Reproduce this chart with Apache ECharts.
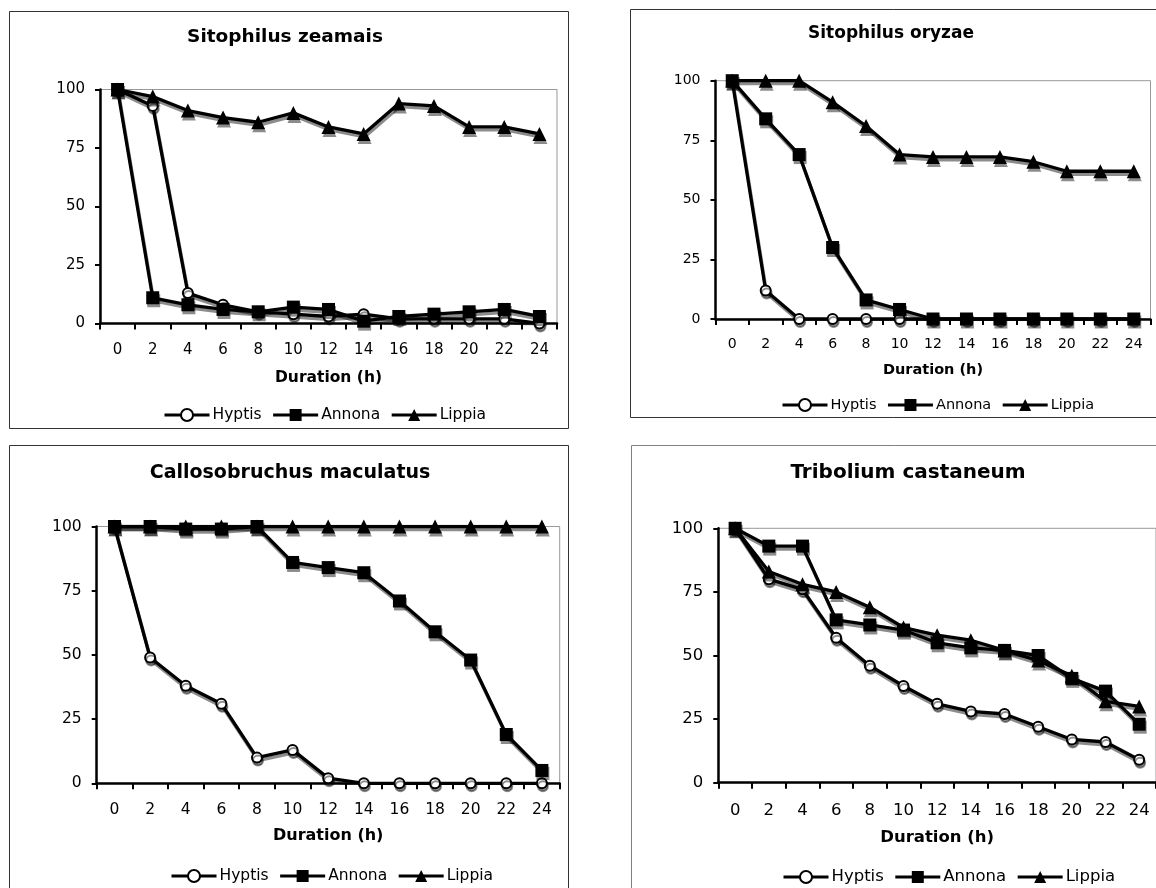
<!DOCTYPE html>
<html>
<head>
<meta charset="utf-8">
<script src="https://cdn.jsdelivr.net/npm/echarts@6/dist/echarts.min.js"></script>
<style>html,body{margin:0;padding:0;background:#fff;}#c{width:1156px;height:888px;}</style>
</head>
<body>
<div id="c"></div>
<script>
const categories = ['0','2','4','6','8','10','12','14','16','18','20','22','24'];
const yTicks = [0, 25, 50, 75, 100];
const seriesNames = ['Hyptis', 'Annona', 'Lippia'];
const panelTitles = ['Sitophilus zeamais', 'Sitophilus oryzae', 'Callosobruchus maculatus', 'Tribolium castaneum'];
const xAxisTitle = 'Duration (h)';

// Sitophilus zeamais
const zeamaisHyptis = [100, 93, 13, 8, 5, 4, 3, 4, 2, 2, 2, 2, 0];
const zeamaisAnnona = [100, 11, 8, 6, 5, 7, 6, 1, 3, 4, 5, 6, 3];
const zeamaisLippia = [100, 97, 91, 88, 86, 90, 84, 81, 94, 93, 84, 84, 81];
// Sitophilus oryzae
const oryzaeHyptis = [100, 12, 0, 0, 0, 0, 0, 0, 0, 0, 0, 0, 0];
const oryzaeAnnona = [100, 84, 69, 30, 8, 4, 0, 0, 0, 0, 0, 0, 0];
const oryzaeLippia = [100, 100, 100, 91, 81, 69, 68, 68, 68, 66, 62, 62, 62];
// Callosobruchus maculatus
const maculatusHyptis = [100, 49, 38, 31, 10, 13, 2, 0, 0, 0, 0, 0, 0];
const maculatusAnnona = [100, 100, 99, 99, 100, 86, 84, 82, 71, 59, 48, 19, 5];
const maculatusLippia = [100, 100, 100, 100, 100, 100, 100, 100, 100, 100, 100, 100, 100];
// Tribolium castaneum
const castaneumHyptis = [100, 80, 76, 57, 46, 38, 31, 28, 27, 22, 17, 16, 9];
const castaneumAnnona = [100, 93, 93, 64, 62, 60, 55, 53, 52, 50, 41, 36, 23];
const castaneumLippia = [100, 83, 78, 75, 69, 61, 58, 56, 52, 48, 42, 32, 30];

const panelData = [
  [zeamaisHyptis, zeamaisAnnona, zeamaisLippia],
  [oryzaeHyptis, oryzaeAnnona, oryzaeLippia],
  [maculatusHyptis, maculatusAnnona, maculatusLippia],
  [castaneumHyptis, castaneumAnnona, castaneumLippia]
];

const FONT = '"DejaVu Sans", Verdana, sans-serif';

// layout per panel
const layout = [
  {grid:{left:100, top:89.5, width:457, height:234}, box:{x:9.5,y:11.5,w:559,h:417}, boxColor:'#333',
   title:{x:285, y:37, size:18.5}, tick:15, labelMargin:19.5, name:15.5, nameGap:46, legend:{left:163, top:407}, leg:15.5},
  {grid:{left:715.5, top:80.7, width:435, height:238.3}, box:{x:630.5,y:9.5,w:560,h:408}, boxColor:'#333',
   title:{x:891, y:33.5, size:17}, tick:14, labelMargin:18, name:14.5, nameGap:43.5, legend:{left:781, top:397.5}, leg:14.5},
  {grid:{left:96.7, top:526.5, width:463, height:256.8}, box:{x:9.5,y:445.5,w:559,h:500}, boxColor:'#333',
   title:{x:290, y:473, size:19}, tick:15.5, labelMargin:19, name:16, nameGap:45, legend:{left:170, top:868}, leg:15.5},
  {grid:{left:718.3, top:528.3, width:442, height:254.4}, box:{x:631.5,y:445.5,w:560,h:500}, boxColor:'#808080',
   title:{x:908, y:473, size:20}, tick:16.5, labelMargin:20, name:16.5, nameGap:46.5, legend:{left:782, top:868.5}, leg:16.5}
];

const symbols = [
  {symbol:'emptyCircle', size:10},
  {symbol:'rect', size:13},
  {symbol:'triangle', size:14}
];

const shadow = {shadowColor:'rgba(0,0,0,0.45)', shadowOffsetX:1, shadowOffsetY:3, shadowBlur:0};

const grids = [], xAxes = [], yAxes = [], series = [], legends = [], graphics = [];

layout.forEach((L, i) => {
  grids.push(Object.assign({show:true, borderColor:'#999', borderWidth:1, backgroundColor:'transparent', containLabel:false}, L.grid));
  xAxes.push({
    type:'category', gridIndex:i, data:categories, boundaryGap:true,
    name:xAxisTitle, nameLocation:'middle', nameGap:L.nameGap,
    nameTextStyle:{fontFamily:FONT, fontWeight:'bold', fontSize:L.name, color:'#000'},
    axisLine:{show:true, onZero:false, lineStyle:{color:'#000', width:2.5}},
    axisTick:{show:true, alignWithLabel:false, length:6, lineStyle:{color:'#000', width:2}},
    axisLabel:{fontFamily:FONT, fontSize:L.tick, color:'#000', margin:L.labelMargin, interval:0},
    splitLine:{show:false}
  });
  yAxes.push({
    type:'value', gridIndex:i, min:yTicks[0], max:yTicks[yTicks.length-1], interval:yTicks[1]-yTicks[0],
    axisLine:{show:true, lineStyle:{color:'#000', width:2.5}},
    axisTick:{show:true, length:5, lineStyle:{color:'#000', width:2}},
    axisLabel:{fontFamily:FONT, fontSize:L.tick, color:'#000', margin:15},
    splitLine:{show:false}
  });
  panelData[i].forEach((vals, k) => {
    const s = symbols[k];
    series.push({
      type:'line', name:seriesNames[k], xAxisIndex:i, yAxisIndex:i, data:vals,
      symbol:s.symbol, symbolSize:s.size, showSymbol:true, showAllSymbol:true,
      lineStyle:Object.assign({color:'#000', width:3.3}, shadow),
      itemStyle:Object.assign({color:'#000', borderColor:'#000', borderWidth: k===0 ? 1.5 : 0}, shadow),
      emphasis:{disabled:true},
      z: 2 + k
    });
  });
  legends.push({
    data:seriesNames, left:L.legend.left, top:L.legend.top, orient:'horizontal', padding:0,
    itemWidth:45, itemHeight:15, itemGap:10, selectedMode:false,
    lineStyle:{width:3, color:'#000', shadowColor:'rgba(0,0,0,0)', shadowOffsetX:0, shadowOffsetY:0},
    itemStyle:{shadowColor:'rgba(0,0,0,0)', shadowOffsetX:0, shadowOffsetY:0},
    textStyle:{fontFamily:FONT, fontSize:L.leg, color:'#000', padding:[0,0,0,-2]}
  });
  graphics.push({
    type:'rect', silent:true, z:-10,
    shape:{x:L.box.x, y:L.box.y, width:L.box.w, height:L.box.h},
    style:{fill:'none', stroke:L.boxColor, lineWidth:1}
  });
  graphics.push({
    type:'text', silent:true, x:L.title.x, y:L.title.y,
    style:{text:panelTitles[i], align:'center', verticalAlign:'middle', textAlign:'center', textVerticalAlign:'middle',
      font:'bold ' + L.title.size + 'px ' + FONT, fill:'#000'}
  });
});

const chart = echarts.init(document.getElementById('c'), null, {renderer:'canvas'});
chart.setOption({
  animation:false,
  backgroundColor:'#fff',
  textStyle:{fontFamily:FONT},
  grid:grids, xAxis:xAxes, yAxis:yAxes, series:series, legend:legends,
  graphic:graphics
});
</script>
</body>
</html>
